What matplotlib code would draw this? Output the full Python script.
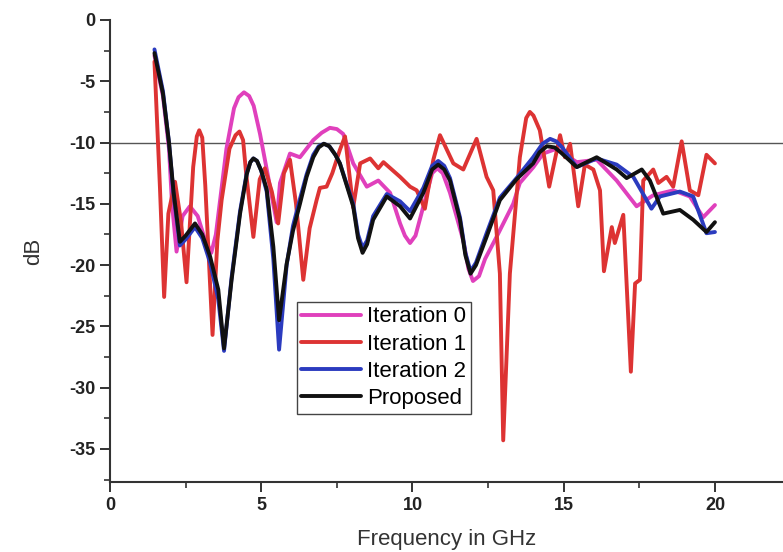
import matplotlib
matplotlib.use("Agg")
import matplotlib.pyplot as plt
from matplotlib.ticker import MultipleLocator, FixedLocator

plt.rcParams["font.family"] = ["Liberation Sans", "DejaVu Sans"]
plt.rcParams["axes.unicode_minus"] = False

# --- reflection coefficient (dB) per design stage ---
iter0_f = [1.47, 1.75, 1.95, 2.05, 2.2, 2.4, 2.64, 2.9, 3.1, 3.35, 3.5, 3.64, 3.85, 4.1,
           4.25, 4.43, 4.6, 4.75, 4.96, 5.29, 5.51, 5.62, 5.95, 6.28, 6.72, 7.0, 7.27,
           7.5, 7.71, 8.04, 8.49, 8.87, 9.26, 9.59, 9.75, 9.92, 10.1, 10.36, 10.65, 10.82,
           11.0, 11.24, 11.68, 11.85, 12.0, 12.2, 12.4, 12.78, 13.33, 13.55, 14.0, 14.32,
           14.77, 15.43, 16.09, 16.75, 17.41, 17.96, 18.62, 19.17, 19.61, 20.0]
iter0_db = [-2.9, -6.2, -10.5, -15.0, -18.9, -16.0, -15.2, -16.0, -17.6, -19.0, -17.5,
            -14.7, -10.5, -7.2, -6.3, -5.9, -6.2, -7.0, -9.3, -13.6, -16.5, -13.3, -10.9,
            -11.2, -9.8, -9.2, -8.8, -8.9, -9.3, -11.7, -13.6, -13.1, -14.1, -16.6, -17.6,
            -18.2, -17.6, -15.2, -12.5, -12.1, -12.5, -14.1, -18.0, -20.3, -21.3, -20.9,
            -19.5, -17.7, -15.0, -13.3, -12.0, -10.9, -10.5, -11.6, -11.4, -13.1, -15.2,
            -14.3, -13.9, -14.4, -16.1, -15.1]

iter1_f = [1.47, 1.65, 1.79, 1.93, 2.15, 2.35, 2.53, 2.75, 2.87, 2.95, 3.05, 3.15, 3.39,
           3.55, 3.69, 3.95, 4.15, 4.28, 4.4, 4.5, 4.74, 4.95, 5.12, 5.35, 5.56, 5.75,
           5.95, 6.15, 6.39, 6.6, 6.83, 6.94, 7.16, 7.35, 7.6, 7.77, 8.04, 8.27, 8.6,
           8.87, 9.04, 9.59, 9.92, 10.14, 10.41, 10.69, 10.91, 11.35, 11.68, 12.12, 12.45,
           12.67, 12.89, 13.0, 13.22, 13.55, 13.76, 13.88, 14.0, 14.21, 14.52, 14.88,
           15.04, 15.21, 15.48, 15.7, 15.98, 16.2, 16.33, 16.59, 16.69, 16.97, 17.22,
           17.36, 17.52, 17.63, 17.96, 18.13, 18.4, 18.62, 18.9, 19.17, 19.45, 19.72, 20.0]
iter1_db = [-3.4, -13.6, -22.6, -15.8, -13.2, -16.5, -21.4, -12.0, -9.5, -9.0, -9.6,
            -13.5, -25.7, -18.0, -14.7, -10.5, -9.4, -9.1, -9.8, -12.5, -17.7, -13.0,
            -12.1, -14.0, -16.6, -12.5, -11.4, -15.0, -21.2, -17.0, -14.7, -13.7, -13.6,
            -12.5, -10.6, -9.5, -15.3, -11.7, -11.3, -12.1, -11.6, -12.8, -13.6, -13.9,
            -15.4, -11.4, -9.4, -11.7, -12.2, -9.7, -12.8, -13.9, -20.7, -34.3, -20.7,
            -11.2, -8.0, -7.5, -7.8, -9.0, -13.6, -9.4, -11.2, -10.1, -15.2, -11.8, -12.2,
            -13.9, -20.5, -16.9, -18.2, -15.9, -28.7, -21.5, -21.2, -13.1, -12.2, -13.3,
            -12.8, -13.6, -9.9, -13.9, -14.3, -11.0, -11.7]

iter2_f = [1.47, 1.75, 1.95, 2.1, 2.31, 2.5, 2.81, 3.05, 3.31, 3.58, 3.77, 4.02, 4.3,
           4.52, 4.64, 4.74, 4.86, 5.0, 5.18, 5.4, 5.59, 5.84, 6.05, 6.28, 6.5, 6.72,
           6.9, 7.07, 7.25, 7.45, 7.6, 8.04, 8.2, 8.35, 8.5, 8.7, 9.15, 9.59, 9.92, 10.36,
           10.65, 10.85, 11.05, 11.24, 11.57, 11.75, 11.92, 12.1, 12.45, 12.89, 13.44,
           13.99, 14.3, 14.55, 14.75, 14.95, 15.43, 16.09, 16.75, 17.3, 17.65, 17.9,
           18.18, 18.84, 19.28, 19.72, 20.0]
iter2_db = [-2.4, -5.8, -10.0, -14.2, -18.4, -17.9, -16.9, -17.8, -19.8, -22.8, -27.0,
            -21.0, -15.6, -12.5, -11.6, -11.3, -11.5, -12.3, -14.0, -19.5, -26.9, -20.0,
            -16.8, -14.6, -12.6, -11.0, -10.3, -10.1, -10.3, -11.0, -11.7, -15.0, -17.5,
            -18.6, -18.0, -16.0, -14.2, -14.8, -15.6, -13.7, -11.9, -11.5, -11.9, -12.9,
            -16.1, -19.0, -20.5, -19.8, -17.4, -14.5, -12.9, -11.2, -10.1, -9.7, -9.9,
            -10.4, -12.0, -11.3, -11.8, -12.8, -14.3, -15.4, -14.4, -14.0, -14.4, -17.4,
            -17.3]

prop_f = [1.47, 1.75, 1.95, 2.1, 2.31, 2.5, 2.81, 3.05, 3.31, 3.58, 3.77, 4.02, 4.3, 4.52,
          4.64, 4.74, 4.86, 5.0, 5.18, 5.4, 5.59, 5.84, 6.05, 6.28, 6.5, 6.72, 6.9, 7.07,
          7.25, 7.45, 7.6, 8.04, 8.2, 8.35, 8.5, 8.7, 9.15, 9.59, 9.92, 10.36, 10.65,
          10.85, 11.05, 11.24, 11.57, 11.75, 11.92, 12.1, 12.45, 12.89, 13.44, 13.99,
          14.2, 14.44, 14.7, 14.9, 15.43, 16.09, 16.75, 17.08, 17.58, 17.85, 18.29, 18.84,
          19.28, 19.72, 20.0]
prop_db = [-2.7, -6.0, -10.0, -14.0, -18.1, -17.6, -16.6, -17.5, -19.3, -22.0, -26.8,
           -21.2, -15.8, -12.6, -11.6, -11.3, -11.5, -12.3, -13.8, -18.5, -24.5, -19.9,
           -17.2, -15.0, -12.8, -11.2, -10.4, -10.1, -10.3, -11.0, -11.7, -15.2, -17.8,
           -19.0, -18.3, -16.3, -14.4, -15.2, -16.2, -14.1, -12.2, -11.8, -12.2, -13.1,
           -16.3, -19.2, -20.7, -20.0, -17.7, -14.7, -13.0, -11.7, -10.8, -10.3, -10.4,
           -10.8, -12.0, -11.2, -12.2, -12.9, -12.2, -13.1, -15.8, -15.5, -16.3, -17.3,
           -16.5]

x_ticks = [0, 5, 10, 15, 20]
y_ticks = [0, -5, -10, -15, -20, -25, -30, -35]

fig = plt.figure(figsize=(7.83, 5.52), dpi=100)
ax = fig.add_axes([110 / 783, 70 / 552, 673 / 783, 462 / 552])

ax.axhline(-10, color="#555555", lw=1.0, zorder=1)

style = dict(lw=2.8, solid_joinstyle="round", solid_capstyle="round")
ax.plot(iter0_f, iter0_db, color="#e040bc", label="Iteration 0", zorder=2, **style)
ax.plot(iter1_f, iter1_db, color="#dd3333", label="Iteration 1", zorder=3, **style)
ax.plot(iter2_f, iter2_db, color="#2b3bbf", label="Iteration 2", zorder=4, **style)
ax.plot(prop_f, prop_db, color="#111111", label="Proposed", zorder=5, **style)

ax.set_xlim(0, 22.25)
ax.set_ylim(-37.7, 0)
ax.xaxis.set_major_locator(FixedLocator(x_ticks))
ax.xaxis.set_minor_locator(FixedLocator([2.5, 7.5, 12.5, 17.5]))
ax.yaxis.set_major_locator(FixedLocator(y_ticks))
ax.yaxis.set_minor_locator(MultipleLocator(2.5))
ax.set_xticklabels([str(t) for t in x_ticks])
ax.set_yticklabels([str(t) for t in y_ticks])

for side in ["top", "right"]:
    ax.spines[side].set_visible(False)
for side in ["left", "bottom"]:
    ax.spines[side].set_color("#333333")
    ax.spines[side].set_linewidth(1.5)

ax.tick_params(which="major", direction="out", length=7, width=1.4, colors="#333333",
               labelsize=13, labelcolor="#222222")
ax.tick_params(which="minor", direction="out", length=4, width=1.2, colors="#333333")
for lbl in ax.get_xticklabels() + ax.get_yticklabels():
    lbl.set_fontweight("bold")

ax.set_xlabel("Frequency in GHz", fontsize=16, color="#333333", labelpad=11)
ax.set_ylabel("dB", fontsize=16, color="#333333", labelpad=18)

leg = ax.legend(loc="upper left", bbox_to_anchor=((297 - 110) / 673, (482 - 302) / 462),
                borderaxespad=0, fontsize=16, frameon=True, fancybox=False,
                edgecolor="#444444", framealpha=1, handlelength=2.7, handletextpad=0.25,
                labelspacing=0.28, borderpad=0.2)
leg.get_frame().set_linewidth(1.0)
for line in leg.get_lines():
    line.set_linewidth(2.8)

fig.savefig("out.png", dpi=100)
